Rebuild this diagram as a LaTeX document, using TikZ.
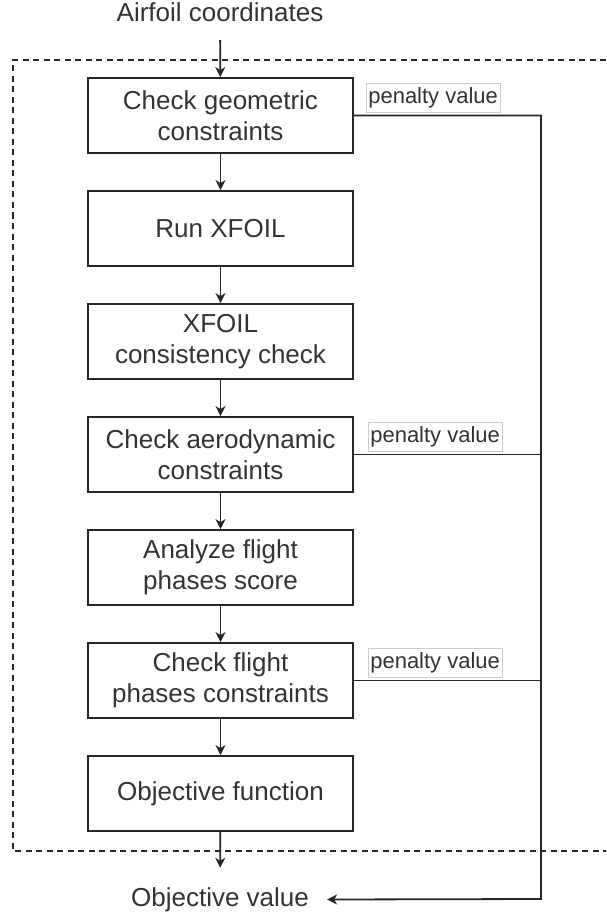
\documentclass[tikz,border=0pt]{standalone}
\usepackage{fontspec}
\setmainfont{Liberation Sans}
\usetikzlibrary{positioning,arrows.meta}

\begin{document}
\begin{tikzpicture}[
	x=1pt, y=-1pt,
	stepbox/.style={ draw=black!85, line width=1.8pt, minimum width=265pt, minimum height=75pt, inner sep=2pt, align=center, text=black!80, font=\fontsize{26}{31}\selectfont },
	penalty/.style={ draw=black!20, fill=white, line width=0.8pt, inner xsep=2pt, inner ysep=4pt, text height=16pt, text depth=5pt, text=black!80, font=\fontsize{22}{26}\selectfont },
	plain/.style={ text=black!80, font=\fontsize{26}{31}\selectfont },
	arr/.style={ draw=black!85, line width=1.8pt, -{Stealth[length=10pt,width=10pt,inset=3pt]} },
	wire/.style={ draw=black!85, line width=1.8pt }
]
\useasboundingbox (0,0) rectangle (606,917);

% dashed frame round the evaluation
\draw[black!85, line width=1.3pt, dash pattern=on 6pt off 4.5pt] (606,60) -- (13,60) -- (13,851) -- (606,851);

\node at (220,22) (airfoil) [plain, anchor=base, text height=19pt, text depth=0pt, inner ysep=18pt] {Airfoil coordinates};

\node at (220.5,115.5) (geom) [stepbox] {Check geometric\\constraints};
\node (xfoil) [stepbox, below=36.2pt of geom] {Run XFOIL};
\node (consist) [stepbox, below=36.2pt of xfoil] {XFOIL\\consistency check};
\node (aero) [stepbox, below=36.2pt of consist] {Check aerodynamic\\constraints};
\node (phases) [stepbox, below=36.2pt of aero] {Analyze flight\\phases score};
\node (phasecon) [stepbox, below=36.2pt of phases] {Check flight\\phases constraints};
\node (objfun) [stepbox, below=36.2pt of phasecon] {Objective function};

\node at (220,906) (objval) [plain, anchor=base, text height=19pt, text depth=6pt, inner ysep=19pt, inner xsep=18pt] {Objective value};

\node (pengeom) [penalty, above right=3pt and 12pt of geom.east] {penalty value};
\node (penaero) [penalty, above right=3pt and 14pt of aero.east] {penalty value};
\node (penphase) [penalty, above right=3pt and 14pt of phasecon.east] {penalty value};

\coordinate (bus) at (541,899);

\draw[arr] (airfoil) to (geom);
\draw[arr] (geom) to (xfoil);
\draw[arr] (xfoil) to (consist);
\draw[arr] (consist) to (aero);
\draw[arr] (aero) to (phases);
\draw[arr] (phases) to (phasecon);
\draw[arr] (phasecon) to (objfun);
\draw[arr] (objfun) to (objval);

\draw[arr] (geom.east) -| (bus) -- (objval.east);
\draw[wire] (aero.east) -- (aero.east -| bus);
\draw[wire] (phasecon.east) -- (phasecon.east -| bus);

\end{tikzpicture}
\end{document}
